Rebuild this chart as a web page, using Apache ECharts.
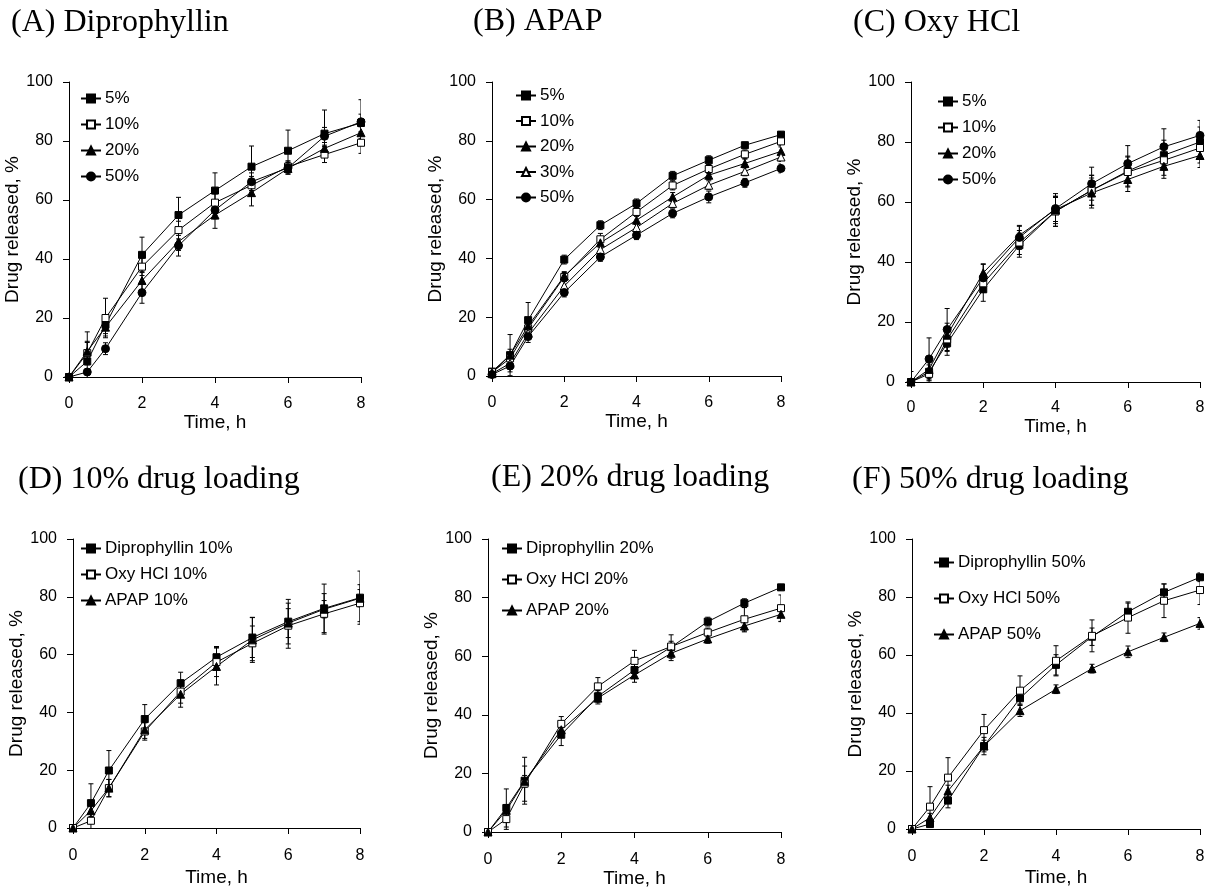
<!DOCTYPE html>
<html>
<head>
<meta charset="utf-8">
<script src="https://cdn.jsdelivr.net/npm/echarts@6/dist/echarts.min.js"></script>
<style>
html,body{margin:0;padding:0;background:#fff;}
#chart{width:1212px;height:890px;}
</style>
</head>
<body>
<div id="chart"></div>
<script>
// ---------- data ----------
const times = [0, 0.5, 1, 2, 3, 4, 5, 6, 7, 8];
const xTickMin = 0, xTickMax = 8, xTickStep = 2;
const yTickMin = 0, yTickMax = 100, yTickStep = 20;
const xAxisName = 'Time, h';
const yAxisName = 'Drug released, %';
const panelTitles = ['(A) Diprophyllin', '(B) APAP', '(C) Oxy HCl',
                     '(D) 10% drug loading', '(E) 20% drug loading', '(F) 50% drug loading'];

// (A) Diprophyllin
const A_names = ['5%', '10%', '20%', '50%'];
const A_5   = [0, 5.3, 17.7, 41.4, 54.9, 63.2, 71.3, 76.7, 82.5, 86.1];
const A_10  = [0, 8.1, 20.0, 37.4, 49.8, 59.1, 65.0, 71.3, 75.4, 79.4];
const A_20  = [0, 8.7, 16.9, 32.7, 45.9, 54.9, 62.5, 70.7, 77.5, 82.8];
const A_50  = [0, 1.7, 9.6, 28.6, 44.5, 56.6, 66.2, 70.9, 81.6, 86.5];
const A_5e  = [0, 10, 3, 6, 6, 6, 7, 7, 8, 3];
const A_10e = [0, 4, 6.7, 3, 3, 3, 3, 2, 2.7, 3.6];
const A_20e = [0, 3, 3, 3, 3, 4.5, 4.5, 2, 2, 2];
const A_50e = [0, 1, 2, 3.6, 3.5, 3, 3, 2, 3, 7.5];

// (B) APAP
const B_names = ['5%', '10%', '20%', '30%', '50%'];
const B_5   = [1.5, 7.1, 19.0, 39.6, 51.3, 58.7, 68.1, 73.4, 78.5, 82.1];
const B_10  = [1.3, 6.0, 16.2, 33.7, 46.5, 55.8, 64.8, 70.4, 75.4, 79.8];
const B_20  = [1.0, 7.1, 17.0, 34.0, 45.3, 53.0, 60.9, 68.3, 72.3, 76.4];
const B_30  = [0.8, 4.3, 14.5, 30.6, 43.0, 50.5, 58.7, 64.9, 69.6, 74.5];
const B_50  = [0.5, 3.4, 13.4, 28.4, 40.5, 47.9, 55.3, 60.9, 65.7, 70.6];
const B_5e  = [0.5, 7, 6, 1.5, 1.5, 1.5, 1.5, 1.5, 1, 1];
const B_10e = [0.5, 2, 2, 1.5, 2, 1.5, 1.5, 1.5, 1.5, 1.5];
const B_20e = [0.5, 2, 2, 1.5, 1.5, 1.5, 1.5, 1.5, 1.5, 1.5];
const B_30e = [0.5, 2, 2, 1.5, 1.5, 1.5, 1.5, 1.5, 1.5, 1.5];
const B_50e = [0.5, 2, 2, 1.5, 1.5, 1.5, 1.5, 2, 1.5, 1.5];

// (C) Oxy HCl
const C_names = ['5%', '10%', '20%', '50%'];
const C_5   = [0, 3.4, 12.9, 30.9, 45.6, 56.9, 63.9, 70.3, 75.6, 80.0];
const C_10  = [0, 2.7, 14.2, 32.9, 46.5, 56.9, 63.9, 70.0, 73.9, 78.0];
const C_20  = [0, 4.2, 15.6, 36.4, 48.9, 57.5, 63.0, 67.5, 71.9, 75.5];
const C_50  = [0, 7.7, 17.5, 34.7, 48.2, 57.8, 66.1, 72.8, 78.4, 82.2];
const C_5e  = [3.5, 3, 4, 4, 4, 5, 5, 5, 5, 5];
const C_10e = [0, 3, 4, 3, 4, 5, 5, 5, 5, 5];
const C_20e = [0, 3, 4, 3, 3, 4, 5, 4, 4, 4];
const C_50e = [0, 7, 7, 4.5, 4, 5, 5.5, 6, 6, 5];

// (D) 10% drug loading
const D_names = ['Diprophyllin 10%', 'Oxy HCl 10%', 'APAP 10%'];
const D_dip  = [0, 8.6, 19.9, 37.7, 50.1, 59.1, 65.9, 71.4, 76.0, 79.7];
const D_oxy  = [0, 2.5, 13.8, 33.4, 47.2, 57.4, 63.9, 70.0, 74.1, 77.8];
const D_apap = [0, 6.0, 13.8, 34.0, 46.3, 55.9, 65.1, 70.9, 75.7, 79.5];
const D_dipe  = [0, 6.7, 6.9, 5, 3.8, 3.7, 6.9, 7.7, 8.4, 9.2];
const D_oxye  = [0, 3, 3, 3, 4, 5, 6, 7.8, 7, 6.4];
const D_apape = [0, 2, 3, 3, 4.5, 6.4, 7.8, 5, 3, 3];

// (E) 20% drug loading
const E_names = ['Diprophyllin 20%', 'Oxy HCl 20%', 'APAP 20%'];
const E_dip  = [0, 8.2, 17.5, 33.2, 46.3, 55.3, 63.1, 71.8, 78.1, 83.5];
const E_oxy  = [0, 4.4, 16.5, 36.9, 49.7, 58.4, 63.3, 68.1, 72.6, 76.4];
const E_apap = [0, 7.4, 17.3, 34.9, 45.7, 53.6, 61.0, 65.9, 70.3, 74.3];
const E_dipe  = [0, 6.5, 8, 3.7, 2, 2, 2, 1.5, 1.5, 1];
const E_oxye  = [0, 3.5, 6, 2.5, 3, 3.6, 4, 1.5, 4, 4.5];
const E_apape = [0, 2, 2, 2, 2, 2.5, 2.5, 1.5, 2, 2.5];

// (F) 50% drug loading
const F_names = ['Diprophyllin 50%', 'Oxy HCl 50%', 'APAP 50%'];
const F_dip  = [0, 1.7, 9.8, 28.6, 45.1, 56.6, 66.3, 74.9, 81.6, 86.8];
const F_oxy  = [0, 7.7, 17.7, 34.1, 47.7, 58.0, 66.6, 72.9, 78.7, 82.4];
const F_apap = [0, 3.9, 13.1, 28.6, 40.8, 48.2, 55.3, 61.1, 66.1, 70.9];
const F_dipe  = [0, 1, 2.5, 3, 2, 3.5, 3, 3, 2.9, 1.5];
const F_oxye  = [0, 6.9, 6.9, 5.4, 5.1, 5.2, 5.5, 5.4, 5.8, 5];
const F_apape = [0, 1.5, 2, 2, 2, 1.5, 1.5, 2, 1.5, 2];

// ---------- markers ----------
const M = {
  fSq:  {symbol: 'rect', size: 7, fill: '#000'},
  oSq:  {symbol: 'rect', size: 7, fill: '#fff'},
  fTri: {symbol: 'triangle', size: 8, fill: '#000'},
  oTri: {symbol: 'triangle', size: 8, fill: '#fff'},
  fCir: {symbol: 'circle', size: 8, fill: '#000'}
};

// ---------- layout ----------
const panels = [
  {grid: {left: 69, top: 82, width: 292, height: 295}, title: {left: 11, top: 7},
   legend: {left: 80, top: 90, gap: 9}, xNameGap: 35, yNameGap: 38, xMargin: 19,
   series: [[A_names[0], A_5, A_5e, M.fSq], [A_names[1], A_10, A_10e, M.oSq],
            [A_names[2], A_20, A_20e, M.fTri], [A_names[3], A_50, A_50e, M.fCir]]},
  {grid: {left: 492, top: 82, width: 289, height: 294}, title: {left: 473, top: 6},
   legend: {left: 515, top: 87, gap: 8.5}, xNameGap: 36, yNameGap: 40, xMargin: 19,
   series: [[B_names[0], B_5, B_5e, M.fSq], [B_names[1], B_10, B_10e, M.oSq],
            [B_names[2], B_20, B_20e, M.fTri], [B_names[3], B_30, B_30e, M.oTri],
            [B_names[4], B_50, B_50e, M.fCir]]},
  {grid: {left: 911, top: 82, width: 289, height: 300}, title: {left: 853, top: 7},
   legend: {left: 937, top: 93, gap: 9}, xNameGap: 32, yNameGap: 39, xMargin: 18,
   series: [[C_names[0], C_5, C_5e, M.fSq], [C_names[1], C_10, C_10e, M.oSq],
            [C_names[2], C_20, C_20e, M.fTri], [C_names[3], C_50, C_50e, M.fCir]]},
  {grid: {left: 73, top: 539, width: 287, height: 289}, title: {left: 18, top: 464},
   legend: {left: 80, top: 540, gap: 9}, xNameGap: 40, yNameGap: 41, xMargin: 20,
   series: [[D_names[0], D_dip, D_dipe, M.fSq], [D_names[1], D_oxy, D_oxye, M.oSq],
            [D_names[2], D_apap, D_apape, M.fTri]]},
  {grid: {left: 488, top: 539, width: 293, height: 293}, title: {left: 491, top: 462},
   legend: {left: 501, top: 540, gap: 14}, xNameGap: 37, yNameGap: 37, xMargin: 20,
   series: [[E_names[0], E_dip, E_dipe, M.fSq], [E_names[1], E_oxy, E_oxye, M.oSq],
            [E_names[2], E_apap, E_apape, M.fTri]]},
  {grid: {left: 912, top: 539, width: 288, height: 290}, title: {left: 852, top: 464},
   legend: {left: 933, top: 554, gap: 19}, xNameGap: 39, yNameGap: 40, xMargin: 20,
   series: [[F_names[0], F_dip, F_dipe, M.fSq], [F_names[1], F_oxy, F_oxye, M.oSq],
            [F_names[2], F_apap, F_apape, M.fTri]]}
];

const SANS = 'Liberation Sans, Arial, sans-serif';
const SERIF = 'Liberation Serif, Times New Roman, serif';

const option = {
  backgroundColor: '#fff',
  animation: false,
  title: [], grid: [], xAxis: [], yAxis: [], legend: [], series: []
};

panels.forEach((p, i) => {
  option.title.push({
    text: panelTitles[i], left: p.title.left, top: p.title.top, padding: 0,
    textStyle: {fontFamily: SERIF, fontSize: 32, fontWeight: 'normal', color: '#000'}
  });
  option.grid.push(Object.assign({containLabel: false}, p.grid));
  option.xAxis.push({
    type: 'value', gridIndex: i, min: xTickMin, max: xTickMax, interval: xTickStep,
    name: xAxisName, nameLocation: 'middle', nameGap: p.xNameGap,
    nameTextStyle: {fontFamily: SANS, fontSize: 19, color: '#000'},
    axisLine: {show: true, onZero: false, lineStyle: {color: '#000', width: 1}},
    axisTick: {show: true, inside: false, length: 6, lineStyle: {color: '#000'}},
    axisLabel: {fontFamily: SANS, fontSize: 16, color: '#000', margin: p.xMargin},
    splitLine: {show: false}
  });
  option.yAxis.push({
    type: 'value', gridIndex: i, min: yTickMin, max: yTickMax, interval: yTickStep,
    name: yAxisName, nameLocation: 'middle', nameGap: p.yNameGap, nameRotate: 90,
    nameTextStyle: {fontFamily: SANS, fontSize: 19, color: '#000'},
    axisLine: {show: true, lineStyle: {color: '#000', width: 1}},
    axisTick: {show: true, inside: false, length: 6, lineStyle: {color: '#000'}},
    axisLabel: {fontFamily: SANS, fontSize: 16, color: '#000', margin: 16},
    splitLine: {show: false}
  });
  option.legend.push({
    orient: 'vertical', left: p.legend.left, top: p.legend.top, padding: 0,
    itemGap: p.legend.gap, itemWidth: 20, itemHeight: 10,
    selectedMode: false,
    textStyle: {fontFamily: SANS, fontSize: 17, color: '#000', padding: [0, 0, 0, -1]},
    data: p.series.map(s => s[0])
  });
  p.series.forEach(([name, vals, errs, mk]) => {
    // error bars
    option.series.push({
      type: 'custom', xAxisIndex: i, yAxisIndex: i, z: 1, silent: true, clip: true,
      data: times.map((t, k) => [t, vals[k] - errs[k], vals[k] + errs[k]]),
      encode: {x: 0, y: [1, 2]},
      renderItem: function (params, api) {
        const x = api.value(0);
        const lo = api.coord([x, api.value(1)]);
        const hi = api.coord([x, api.value(2)]);
        const w = 2.5;
        const st = {stroke: '#000', lineWidth: 1};
        return {type: 'group', children: [
          {type: 'line', shape: {x1: lo[0], y1: lo[1], x2: hi[0], y2: hi[1]}, style: st},
          {type: 'line', shape: {x1: hi[0] - w, y1: hi[1], x2: hi[0] + w, y2: hi[1]}, style: st},
          {type: 'line', shape: {x1: lo[0] - w, y1: lo[1], x2: lo[0] + w, y2: lo[1]}, style: st}
        ]};
      }
    });
    option.series.push({
      name: name, type: 'line', xAxisIndex: i, yAxisIndex: i, z: 3,
      data: times.map((t, k) => [t, vals[k]]),
      symbol: mk.symbol, symbolSize: mk.size, showAllSymbol: true,
      lineStyle: {color: '#000', width: 1},
      itemStyle: {color: mk.fill, borderColor: '#000', borderWidth: 1},
      emphasis: {disabled: true}
    });
  });
});

const chart = echarts.init(document.getElementById('chart'), null, {renderer: 'canvas'});
chart.setOption(option);
</script>
</body>
</html>
